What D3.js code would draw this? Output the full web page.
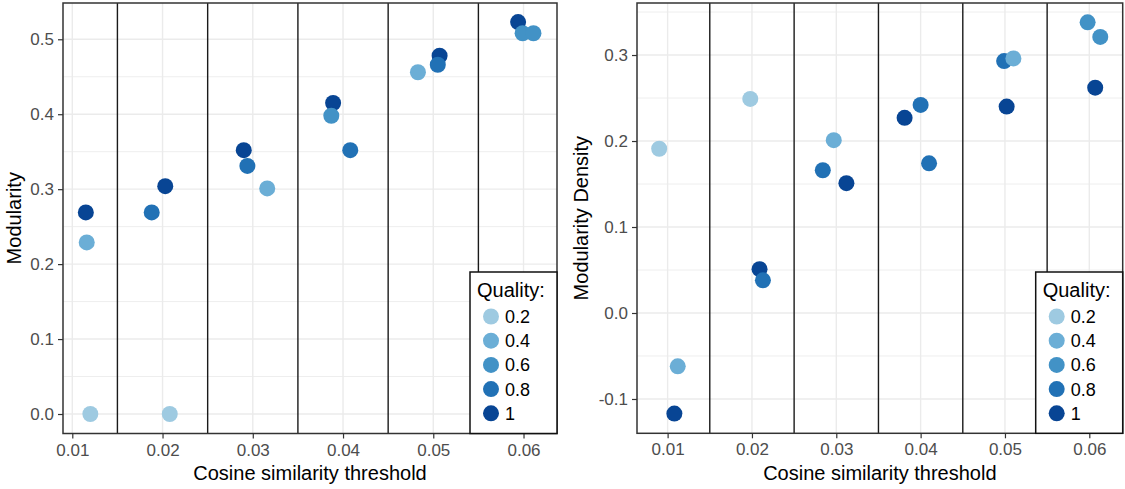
<!DOCTYPE html>
<html>
<head>
<meta charset="utf-8">
<script src="https://cdn.jsdelivr.net/npm/d3@7"></script>
<style>
  html, body { margin: 0; padding: 0; background: #ffffff; }
  svg { display: block; }
  text { font-family: "Liberation Sans", Arial, sans-serif; }
</style>
</head>
<body>
<svg id="chart" width="1125" height="489"></svg>
<script>
// ---------- data ----------
const thresholdTicks = [0.01, 0.02, 0.03, 0.04, 0.05, 0.06];
const thresholdLabels = ["0.01", "0.02", "0.03", "0.04", "0.05", "0.06"];
const separators = [0.015, 0.025, 0.035, 0.045, 0.055];

const qualityLevels = [0.2, 0.4, 0.6, 0.8, 1];
const qualityLabels = ["0.2", "0.4", "0.6", "0.8", "1"];
const qualityColors = ["#9ecae1", "#6baed6", "#4292c6", "#2171b5", "#084594"];

// Left panel: Modularity
const modTicks = [0.0, 0.1, 0.2, 0.3, 0.4, 0.5];
const modTickLabels = ["0.0", "0.1", "0.2", "0.3", "0.4", "0.5"];
const modMinor = [0.05, 0.15, 0.25, 0.35, 0.45];
const modX = [0.0115, 0.0116, 0.0120, 0.0203, 0.0188, 0.0208, 0.0290, 0.0294, 0.0316,
              0.0389, 0.0387, 0.0408, 0.0507, 0.0505, 0.0483, 0.0594, 0.0599, 0.0611];
const modY = [0.269, 0.229, 0.000, 0.304, 0.269, 0.000, 0.352, 0.331, 0.301,
              0.415, 0.398, 0.352, 0.478, 0.466, 0.456, 0.523, 0.508, 0.508];
const modQ = [1, 0.4, 0.2, 1, 0.8, 0.2, 1, 0.8, 0.4,
              1, 0.6, 0.8, 1, 0.8, 0.4, 1, 0.6, 0.6];

// Right panel: Modularity Density
const densTicks = [-0.1, 0.0, 0.1, 0.2, 0.3];
const densTickLabels = ["-0.1", "0.0", "0.1", "0.2", "0.3"];
const densMinor = [-0.05, 0.05, 0.15, 0.25, 0.35];
const densX = [0.0108, 0.0112, 0.0090, 0.0209, 0.0213, 0.0198, 0.0312, 0.0284, 0.0297,
               0.0381, 0.0400, 0.0410, 0.0502, 0.0499, 0.0510, 0.0607, 0.0598, 0.0613];
const densY = [-0.117, -0.062, 0.191, 0.051, 0.038, 0.249, 0.151, 0.166, 0.201,
               0.227, 0.242, 0.174, 0.240, 0.293, 0.296, 0.262, 0.338, 0.321];
const densQ = [1, 0.4, 0.2, 1, 0.8, 0.2, 1, 0.8, 0.4,
               1, 0.8, 0.8, 1, 0.8, 0.4, 1, 0.6, 0.6];

// ---------- drawing ----------
const svg = d3.select("#chart");
const color = d3.scaleOrdinal().domain(qualityLevels).range(qualityColors);

function panel(cfg) {
  const { left, right, top, bottom, xDomain, yDomain, yTicks, yTickLabels, yMinor, xs, ys, qs, yTitle, yTitleX } = cfg;
  const x = d3.scaleLinear().domain(xDomain).range([left, right]);
  const y = d3.scaleLinear().domain(yDomain).range([bottom, top]);
  const g = svg.append("g");

  g.append("rect").attr("x", left).attr("y", top)
    .attr("width", right - left).attr("height", bottom - top).attr("fill", "#ffffff");

  // minor grid
  g.selectAll(".hmin").data(yMinor).join("line")
    .attr("x1", left).attr("x2", right)
    .attr("y1", d => y(d)).attr("y2", d => y(d))
    .attr("stroke", "#eeeeee").attr("stroke-width", 1);
  // major grid
  g.selectAll(".hmaj").data(yTicks).join("line")
    .attr("x1", left).attr("x2", right)
    .attr("y1", d => y(d)).attr("y2", d => y(d))
    .attr("stroke", "#ebebeb").attr("stroke-width", 1.4);
  g.selectAll(".vmaj").data(thresholdTicks).join("line")
    .attr("y1", top).attr("y2", bottom)
    .attr("x1", d => x(d)).attr("x2", d => x(d))
    .attr("stroke", "#ebebeb").attr("stroke-width", 1.4);

  // separators
  g.selectAll(".sep").data(separators).join("line")
    .attr("y1", top).attr("y2", bottom)
    .attr("x1", d => x(d)).attr("x2", d => x(d))
    .attr("stroke", "#1a1a1a").attr("stroke-width", 1.4);

  // points
  const pts = xs.map((v, i) => ({ x: v, y: ys[i], q: qs[i] }));
  g.selectAll(".pt").data(pts).join("circle")
    .attr("cx", d => x(d.x)).attr("cy", d => y(d.y)).attr("r", 8)
    .attr("fill", d => color(d.q));

  // border
  g.append("rect").attr("x", left).attr("y", top)
    .attr("width", right - left).attr("height", bottom - top)
    .attr("fill", "none").attr("stroke", "#333333").attr("stroke-width", 1.5);

  // axes
  const xAxis = d3.axisBottom(x).tickValues(thresholdTicks)
    .tickFormat((d, i) => thresholdLabels[i]).tickSize(5).tickPadding(5);
  const gx = g.append("g").attr("transform", `translate(0,${bottom})`).call(xAxis);
  const yAxis = d3.axisLeft(y).tickValues(yTicks)
    .tickFormat((d, i) => yTickLabels[i]).tickSize(5).tickPadding(4);
  const gy = g.append("g").attr("transform", `translate(${left},0)`).call(yAxis);
  [gx, gy].forEach(a => {
    a.select(".domain").remove();
    a.selectAll(".tick line").attr("stroke", "#333333").attr("stroke-width", 1.2);
    a.selectAll(".tick text").attr("fill", "#4d4d4d").style("font-size", "17px")
      .style("font-family", "'Liberation Sans', Arial, sans-serif");
  });

  // titles
  g.append("text").attr("x", (left + right) / 2).attr("y", 480)
    .attr("text-anchor", "middle").style("font-size", "20px").attr("fill", "#000")
    .text("Cosine similarity threshold");
  g.append("text").attr("transform", `translate(${yTitleX},${(top + bottom) / 2}) rotate(-90)`)
    .attr("text-anchor", "middle").style("font-size", "20px").attr("fill", "#000")
    .text(yTitle);

  // legend
  const lx = right - 87, ly = 272;
  const lg = g.append("g");
  lg.append("rect").attr("x", lx).attr("y", ly).attr("width", right - lx).attr("height", bottom - ly)
    .attr("fill", "#ffffff").attr("stroke", "#111111").attr("stroke-width", 1.5);
  lg.append("text").attr("x", lx + 7).attr("y", ly + 25).style("font-size", "20px")
    .attr("fill", "#000").text("Quality:");
  const items = lg.selectAll(".li").data(qualityLevels).join("g")
    .attr("transform", (d, i) => `translate(${lx + 21},${ly + 44.5 + i * 24.2})`);
  items.append("circle").attr("r", 8).attr("fill", d => color(d));
  items.append("text").attr("x", 14).attr("dy", "0.36em").style("font-size", "18px")
    .attr("fill", "#000").text((d, i) => qualityLabels[i]);
}

panel({
  left: 63, right: 557, top: 3, bottom: 433.5,
  xDomain: [0.00897, 0.06371], yDomain: [-0.026, 0.5484],
  yTicks: modTicks, yTickLabels: modTickLabels, yMinor: modMinor,
  xs: modX, ys: modY, qs: modQ,
  yTitle: "Modularity", yTitleX: 21
});

panel({
  left: 637, right: 1122.7, top: 3, bottom: 433.3,
  xDomain: [0.00637, 0.06396], yDomain: [-0.1399, 0.3605],
  yTicks: densTicks, yTickLabels: densTickLabels, yMinor: densMinor,
  xs: densX, ys: densY, qs: densQ,
  yTitle: "Modularity Density", yTitleX: 588
});
</script>
</body>
</html>
